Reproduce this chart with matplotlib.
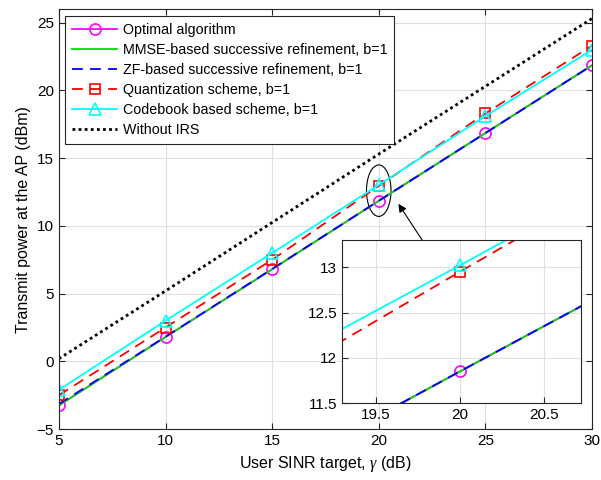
import matplotlib
matplotlib.use("Agg")
import matplotlib.pyplot as plt
from matplotlib.patches import Ellipse

plt.rcParams['font.family'] = ['Liberation Sans', 'DejaVu Sans']
plt.rcParams['mathtext.fontset'] = 'custom'
plt.rcParams['mathtext.it'] = 'Liberation Serif:italic'

gamma = [5, 10, 15, 20, 25, 30]
optimal = [-3.25, 1.8, 6.8, 11.85, 16.85, 21.85]
mmse = [-3.25, 1.8, 6.8, 11.85, 16.85, 21.85]
zf = [-3.15, 1.82, 6.82, 11.85, 16.85, 21.85]
quant = [-2.5, 2.5, 7.5, 12.95, 18.3, 23.3]
codebook = [-2.1, 3.0, 8.0, 13.02, 18.1, 23.0]
no_irs = [0.2, 5.2, 10.25, 15.3, 20.3, 25.3]

labels = ['Optimal algorithm',
          'MMSE-based successive refinement, b=1',
          'ZF-based successive refinement, b=1',
          'Quantization scheme, b=1',
          'Codebook based scheme, b=1',
          'Without IRS']

fig = plt.figure(figsize=(6.01, 4.8), dpi=100)
ax = fig.add_axes([0.098, 0.106, 0.887, 0.875])

def draw(a, ms=8, lw=1.3):
    a.plot(gamma, optimal, color='#ff00ff', marker='o', ms=ms, mfc='none', mew=1.2, lw=lw, label=labels[0])
    a.plot(gamma, mmse, color='#00dd00', lw=lw, label=labels[1])
    a.plot(gamma, zf, color='#0000ff', ls=(0, (6, 4)), lw=lw, label=labels[2])
    a.plot(gamma, quant, color='#ff0000', ls=(0, (6, 4)), marker='s', ms=ms - 1, mfc='none', mew=1.2, lw=lw, label=labels[3])
    a.plot(gamma, codebook, color='#00ffff', marker='^', ms=ms, mfc='none', mew=1.2, lw=lw, label=labels[4])
    a.plot(gamma, no_irs, color='black', ls=(0, (1, 1.2)), lw=2.0, label=labels[5])

def style(a):
    a.grid(True, color='#e0e0e0', lw=0.8)
    a.set_axisbelow(True)
    a.tick_params(direction='in', top=True, right=True, labelsize=11, length=4, color='#262626')
    for s in a.spines.values():
        s.set_color('#262626')
        s.set_linewidth(0.8)

draw(ax)
ax.set_xlim(5, 30)
ax.set_ylim(-5, 26)
ax.set_xticks([5, 10, 15, 20, 25, 30])
ax.set_yticks([-5, 0, 5, 10, 15, 20, 25])
style(ax)
ax.set_xlabel(r'User SINR target, $\gamma$ (dB)', fontsize=11.5)
ax.set_ylabel('Transmit power at the AP (dBm)', fontsize=11.5)

leg = ax.legend(loc='upper left', fontsize=10.3, handlelength=3.1, framealpha=1,
                fancybox=False, edgecolor='#262626', borderpad=0.5, labelspacing=0.42,
                handletextpad=0.4, borderaxespad=0.45)
leg.get_frame().set_linewidth(0.8)

ax.add_patch(Ellipse((20, 12.6), 1.15, 3.8, fill=False, ec='black', lw=0.8))
ax.annotate('', xy=(20.85, 11.8), xytext=(23.6, 5.2),
            arrowprops=dict(arrowstyle='-|>', color='black', lw=0.8, mutation_scale=12))

axin = fig.add_axes([0.569, 0.160, 0.398, 0.340])
draw(axin)
axin.set_xlim(19.3, 20.72)
axin.set_ylim(11.5, 13.3)
axin.set_xticks([19.5, 20, 20.5])
axin.set_xticklabels(['19.5', '20', '20.5'])
axin.set_yticks([11.5, 12, 12.5, 13])
axin.set_yticklabels(['11.5', '12', '12.5', '13'])
style(axin)
axin.tick_params(top=False, right=False)

fig.savefig('out.png', dpi=100)
